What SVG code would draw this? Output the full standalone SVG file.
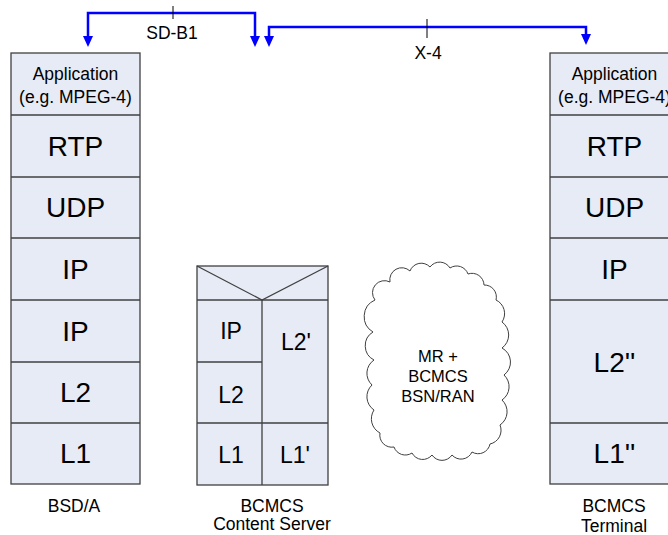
<svg xmlns="http://www.w3.org/2000/svg" width="668" height="535" viewBox="0 0 668 535">
<style>
.box{fill:#E6EBF6;stroke:#404040;stroke-width:1.3}
.ln{fill:none;stroke:#404040;stroke-width:1.3}
.t{font-family:"Liberation Sans",Arial,sans-serif;fill:#000;text-anchor:middle}
.s15{font-size:17.5px}
.s24{font-size:28px}
.s20{font-size:23px}
.s14{font-size:16.5px}
.con{fill:none;stroke:#0000FF;stroke-width:2.5}
.tick{stroke:#000;stroke-width:1}
.ah{fill:#0000FF}
</style>
<rect width="668" height="535" fill="#fff"/>

<g id="connectors">
<path class="con" d="M88,38 V13 H255 V38"/>
<path class="ah" d="M83,36 L93,36 L88,47 Z"/>
<path class="ah" d="M250,36 L260,36 L255,47 Z"/>
<line class="tick" x1="173" y1="6" x2="173" y2="19"/>
<text class="t s15" x="172" y="39">SD-B1</text>
<path class="con" d="M269,38 V27 H586 V36"/>
<path class="ah" d="M264,36 L274,36 L269,47 Z"/>
<path class="ah" d="M581,34 L591,34 L586,45 Z"/>
<line class="tick" x1="427" y1="19" x2="427" y2="38"/>
<text class="t s15" x="428" y="59">X-4</text>
</g>

<g id="bsda">
<rect class="box" x="11" y="53" width="129" height="431"/>
<line class="ln" x1="11" y1="115" x2="140" y2="115"/>
<line class="ln" x1="11" y1="177" x2="140" y2="177"/>
<line class="ln" x1="11" y1="238" x2="140" y2="238"/>
<line class="ln" x1="11" y1="300" x2="140" y2="300"/>
<line class="ln" x1="11" y1="362" x2="140" y2="362"/>
<line class="ln" x1="11" y1="423" x2="140" y2="423"/>
<text class="t s15" x="75.5" y="80">Application</text>
<text class="t s15" x="75.5" y="103">(e.g. MPEG-4)</text>
<text class="t s24" x="75.5" y="156">RTP</text>
<text class="t s24" x="75.5" y="217">UDP</text>
<text class="t s24" x="75.5" y="279">IP</text>
<text class="t s24" x="75.5" y="341">IP</text>
<text class="t s24" x="75.5" y="402">L2</text>
<text class="t s24" x="75.5" y="463">L1</text>
<text class="t s15" x="74" y="512">BSD/A</text>
</g>

<g id="server">
<rect class="box" x="197" y="266" width="131" height="219"/>
<polyline class="ln" points="197,266 262,300 328,266"/>
<line class="ln" x1="197" y1="300" x2="328" y2="300"/>
<line class="ln" x1="262" y1="300" x2="262" y2="485"/>
<line class="ln" x1="197" y1="362" x2="262" y2="362"/>
<line class="ln" x1="197" y1="423" x2="328" y2="423"/>
<text class="t s20" x="231" y="339">IP</text>
<text class="t s20" x="296" y="350">L2'</text>
<text class="t s20" x="231" y="403">L2</text>
<text class="t s20" x="231" y="463">L1</text>
<text class="t s20" x="295" y="463">L1'</text>
<text class="t s15" x="272" y="512">BCMCS</text>
<text class="t s15" x="272" y="530">Content Server</text>
</g>

<g id="cloud">
<path fill="#fff" stroke="#404040" stroke-width="1" d="M375,300 A12,12 0 0 1 390,282 A12,12 0 0 1 410,271 A12,12 0 0 1 430,267 A12,12 0 0 1 450,268 A12,12 0 0 1 468,274 A12,12 0 0 1 484,285 A12,12 0 0 1 496,300 A15,15 0 0 1 502,322 A16,16 0 0 1 502,348 A16,16 0 0 1 504,375 A16,16 0 0 1 502,400 A16,16 0 0 1 500,425 A14,14 0 0 1 490,444 A12,12 0 0 1 472,452 A12,12 0 0 1 452,455 A12,12 0 0 1 432,455 A12,12 0 0 1 412,453 A12,12 0 0 1 394,447 A12,12 0 0 1 380,433 A16,16 0 0 1 374,410 A16,16 0 0 1 372,385 A16,16 0 0 1 374,360 A16,16 0 0 1 373,332 A18,18 0 0 1 375,300 Z"/>
<text class="t s14" x="438" y="362">MR +</text>
<text class="t s14" x="438" y="382">BCMCS</text>
<text class="t s14" x="438" y="402">BSN/RAN</text>
</g>

<g id="terminal">
<rect class="box" x="550" y="53" width="129" height="431"/>
<line class="ln" x1="550" y1="115" x2="679" y2="115"/>
<line class="ln" x1="550" y1="177" x2="679" y2="177"/>
<line class="ln" x1="550" y1="238" x2="679" y2="238"/>
<line class="ln" x1="550" y1="300" x2="679" y2="300"/>
<line class="ln" x1="550" y1="423" x2="679" y2="423"/>
<text class="t s15" x="614.5" y="80">Application</text>
<text class="t s15" x="614.5" y="103">(e.g. MPEG-4)</text>
<text class="t s24" x="614.5" y="156">RTP</text>
<text class="t s24" x="614.5" y="217">UDP</text>
<text class="t s24" x="614.5" y="279">IP</text>
<text class="t s24" x="614.5" y="372">L2''</text>
<text class="t s24" x="614.5" y="463">L1''</text>
<text class="t s15" x="614" y="512">BCMCS</text>
<text class="t s15" x="614" y="532">Terminal</text>
</g>
</svg>
